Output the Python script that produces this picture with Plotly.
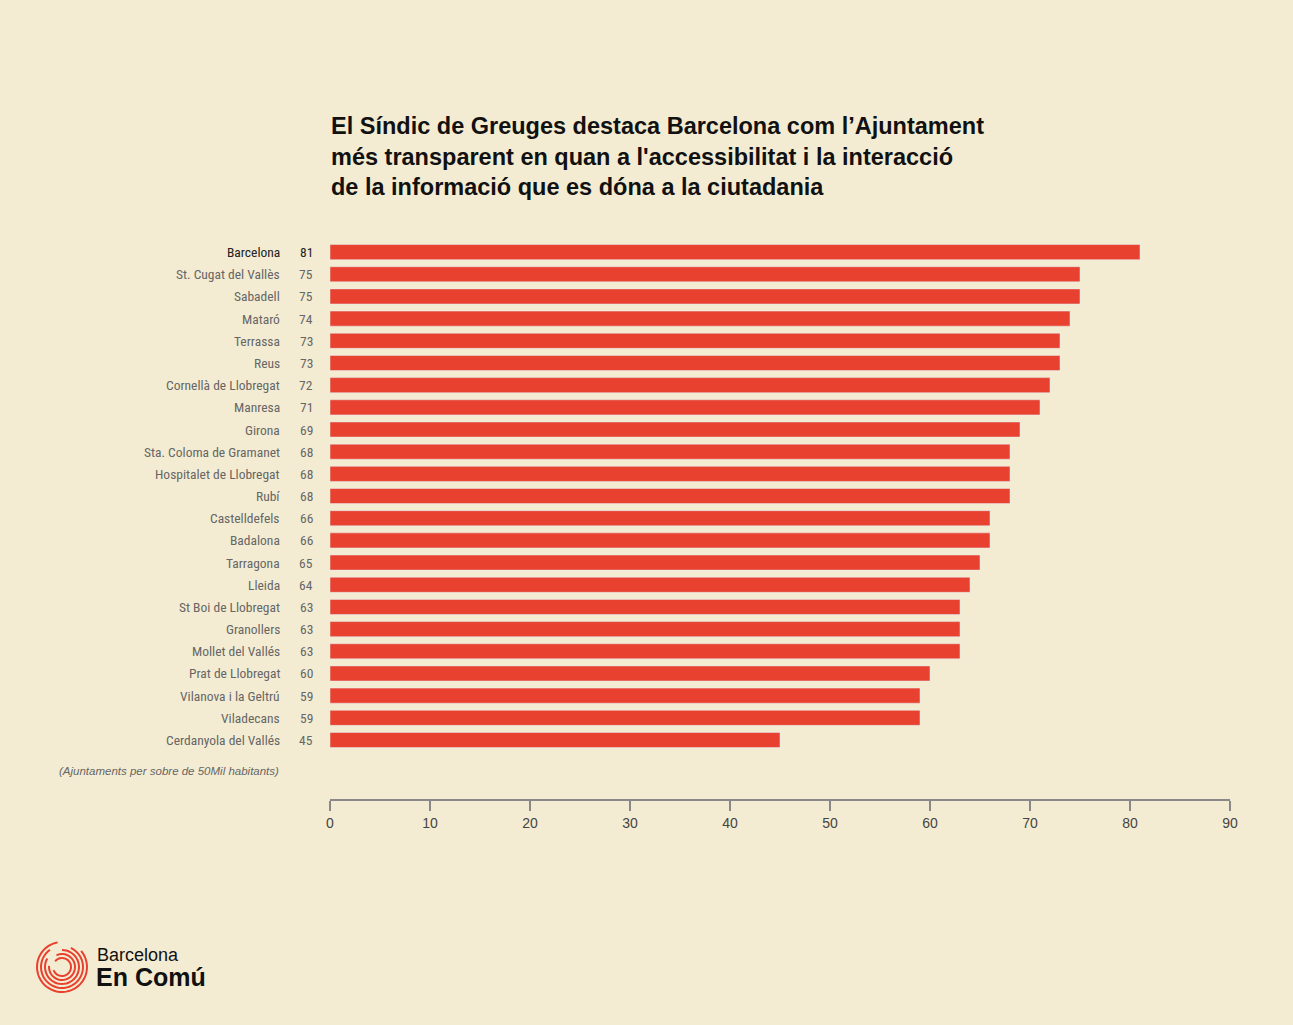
import plotly.graph_objects as go
import math

cities = ["Barcelona","St. Cugat del Vallès","Sabadell","Mataró","Terrassa","Reus",
          "Cornellà de Llobregat","Manresa","Girona","Sta. Coloma de Gramanet",
          "Hospitalet de Llobregat","Rubí","Castelldefels","Badalona","Tarragona",
          "Lleida","St Boi de Llobregat","Granollers","Mollet del Vallés",
          "Prat de Llobregat","Vilanova i la Geltrú","Viladecans","Cerdanyola del Vallés"]
values = [81,75,75,74,73,73,72,71,69,68,68,68,66,66,65,64,63,63,63,60,59,59,45]
ticks = [0,10,20,30,40,50,60,70,80,90]

W, H = 1293, 1025
L, R, T, B = 330, 1230, 241, 799
idx = list(range(len(cities)))

fig = go.Figure(go.Bar(x=values, y=idx, orientation="h", marker_color="#E8412F",
                       width=0.68, hoverinfo="skip"))
ann = []
def px(x): return (x - L) / (R - L)
def py(y): return (B - y) / (B - T)
lab_font = "Liberation Sans Narrow, Roboto Condensed, Roboto, sans-serif"
for i, (c, v) in enumerate(zip(cities, values)):
    col = "#222" if i == 0 else "#666"
    ann.append(dict(x=px(282), y=i, xref="paper", yref="y", text=c, showarrow=False,
                    xanchor="right", font=dict(size=13.5, color=col, family=lab_font)))
    ann.append(dict(x=px(315), y=i, xref="paper", yref="y", text=str(v), showarrow=False,
                    xanchor="right", font=dict(size=13.5, color=col, family=lab_font)))
ann.append(dict(x=px(281), y=py(771), xref="paper", yref="paper", showarrow=False,
                text="<i>(Ajuntaments per sobre de 50Mil habitants)</i>", xanchor="right",
                yanchor="middle", font=dict(size=11.5, color="#666", family="Liberation Sans, sans-serif")))
ann.append(dict(x=px(329), y=py(157), xref="paper", yref="paper", showarrow=False,
                xanchor="left", yanchor="middle", align="left",
                text="<b>El Síndic de Greuges destaca Barcelona com l’Ajuntament<br>més transparent en quan a l'accessibilitat i la interacció<br>de la informació que es dóna a la ciutadania</b>",
                font=dict(size=23.5, color="#111", family="Liberation Sans, Arial, sans-serif")))
ann.append(dict(x=px(95), y=py(955), xref="paper", yref="paper", showarrow=False,
                xanchor="left", yanchor="middle", text="Barcelona",
                font=dict(size=18, color="#111", family="Liberation Sans, sans-serif")))
ann.append(dict(x=px(94), y=py(977), xref="paper", yref="paper", showarrow=False,
                xanchor="left", yanchor="middle", text="<b>En Comú</b>",
                font=dict(size=25, color="#111", family="Liberation Sans, sans-serif")))

shapes = []
cx, cy = 62, 967
for k, r in enumerate([25, 21, 17, 13, 9]):
    a0, a1 = math.radians(100 + k * 25), math.radians(100 + k * 25 + 300)
    pts = []
    for j in range(41):
        a = a0 + (a1 - a0) * j / 40
        pts.append((px(cx + r * math.cos(a)), py(cy - r * math.sin(a))))
    path = "M " + " L ".join(f"{x},{y}" for x, y in pts)
    shapes.append(dict(type="path", path=path, xref="paper", yref="paper",
                       line=dict(color="#E8412F", width=2)))

fig.update_layout(
    width=W, height=H, paper_bgcolor="#F4ECD2", plot_bgcolor="#F4ECD2",
    margin=dict(l=L, r=W - R, t=T, b=H - B), showlegend=False,
    xaxis=dict(range=[0, 90], tickvals=ticks, showgrid=False, zeroline=False,
               showline=True, linecolor="#888", linewidth=2, ticks="outside",
               tickcolor="#888", ticklen=10, tickwidth=2,
               tickfont=dict(size=14, color="#444", family="Liberation Sans, sans-serif")),
    yaxis=dict(range=[24.66, -0.5], showticklabels=False, showgrid=False, zeroline=False),
    annotations=ann, shapes=shapes,
)
fig.write_html("out.html", config={"displayModeBar": False},
               post_script="document.body.style.margin='0';document.body.style.overflow='hidden';")
